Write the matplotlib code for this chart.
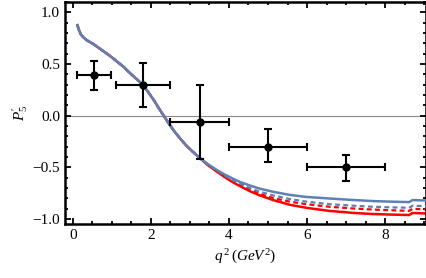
import numpy as np
import matplotlib.pyplot as plt
from matplotlib.ticker import MultipleLocator

plt.rcParams['font.family'] = ['Liberation Serif', 'DejaVu Serif']
plt.rcParams['mathtext.fontset'] = 'custom'
plt.rcParams['mathtext.rm'] = 'Liberation Serif'
plt.rcParams['mathtext.it'] = 'Liberation Serif:italic'

# theory curves
q2_low = [0.12, 0.16, 0.21, 0.28, 0.36, 0.45, 0.54, 0.67, 0.80, 0.93, 1.05, 1.18,
          1.31, 1.43, 1.56, 1.68, 1.80, 1.93, 2.07, 2.20, 2.33, 2.46, 2.60, 2.75,
          2.90, 3.05, 3.26]
common = [0.875, 0.83, 0.785, 0.755, 0.73, 0.71, 0.69, 0.655, 0.62, 0.585, 0.55, 0.51,
          0.47, 0.425, 0.38, 0.34, 0.295, 0.23, 0.155, 0.075, 0.0, -0.075, -0.15, -0.22,
          -0.285, -0.34, -0.41]
q2_high = [3.45, 3.69, 3.90, 4.11, 4.28, 4.54, 4.79, 5.13, 5.55, 5.98, 6.57, 7.20,
           7.68, 8.10, 8.61, 8.66, 8.70, 9.05]
blue_hi = [-0.465, -0.525, -0.57, -0.61, -0.64, -0.675, -0.705, -0.735, -0.765, -0.785, -0.80, -0.815,
           -0.825, -0.83, -0.835, -0.825, -0.815, -0.82]
bdash_hi = [-0.47, -0.53, -0.58, -0.625, -0.655, -0.70, -0.735, -0.77, -0.805, -0.83, -0.855, -0.87,
            -0.88, -0.885, -0.89, -0.88, -0.87, -0.875]
rdash_hi = [-0.47, -0.535, -0.59, -0.635, -0.67, -0.715, -0.755, -0.795, -0.83, -0.855, -0.88, -0.897,
            -0.907, -0.913, -0.92, -0.91, -0.90, -0.905]
red_hi = [-0.475, -0.54, -0.595, -0.645, -0.68, -0.73, -0.77, -0.815, -0.86, -0.89, -0.92, -0.94,
          -0.95, -0.955, -0.96, -0.95, -0.94, -0.945]

q2 = q2_low + q2_high
blue_solid = common + blue_hi
blue_dash = common + bdash_hi
red_dash = common + rdash_hi
red_solid = common + red_hi

# data points with bins
x_data = [0.54, 1.80, 3.26, 5.00, 7.00]
y_data = [0.39, 0.295, -0.06, -0.30, -0.50]
x_lo = [0.10, 1.10, 2.50, 4.00, 6.00]
x_hi = [0.98, 2.50, 4.00, 6.00, 8.00]
y_up = [0.14, 0.215, 0.36, 0.17, 0.125]
y_dn = [0.14, 0.215, 0.36, 0.15, 0.13]

fig = plt.figure(figsize=(4.27, 2.78), dpi=100)
ax = fig.add_axes([0.152, 0.193, 0.846, 0.800])

ax.axhline(0, color='#888888', lw=0.8, zorder=1)

ax.plot(q2, red_solid, color='#ff0000', lw=1.8, zorder=2, solid_joinstyle='round')
ax.plot(q2, red_dash, color='#ff0000', lw=1.6, ls=(0, (2.2, 1.5)), zorder=2)
ax.plot(q2, blue_dash, color='#5e81b5', lw=1.6, ls=(0, (2.2, 1.5)), zorder=3)
ax.plot(q2, blue_solid, color='#5e81b5', lw=1.8, zorder=3, solid_joinstyle='round')

xerr = [np.array(x_data) - np.array(x_lo), np.array(x_hi) - np.array(x_data)]
ax.errorbar(x_data, y_data, xerr=xerr, yerr=[y_dn, y_up], fmt='o', color='black',
            ms=5, lw=1.5, capsize=3, capthick=1.5, zorder=4)

ax.set_xlim(-0.2, 9.05)
ax.set_ylim(-1.05, 1.1)
ax.xaxis.set_major_locator(MultipleLocator(2))
ax.xaxis.set_minor_locator(MultipleLocator(0.5))
ax.yaxis.set_minor_locator(MultipleLocator(0.1))
ax.set_yticks([-1.0, -0.5, 0.0, 0.5, 1.0])
ax.set_yticklabels(['\u22121.0', '\u22120.5', '0.0', '0.5', '1.0'])
ax.tick_params(which='both', direction='in', top=True, right=True, labelsize=11,
               width=1.3, color='black')
ax.tick_params(which='major', length=4)
ax.tick_params(which='minor', length=2.5)
for s in ax.spines.values():
    s.set_linewidth(1.8)

ax.set_xlabel(r'$q^{\,2}\,(GeV^2)$', fontsize=11, labelpad=4)
ax.set_ylabel(r"$P_5'$", fontsize=11, labelpad=2)

fig.savefig('out.png', dpi=100)
